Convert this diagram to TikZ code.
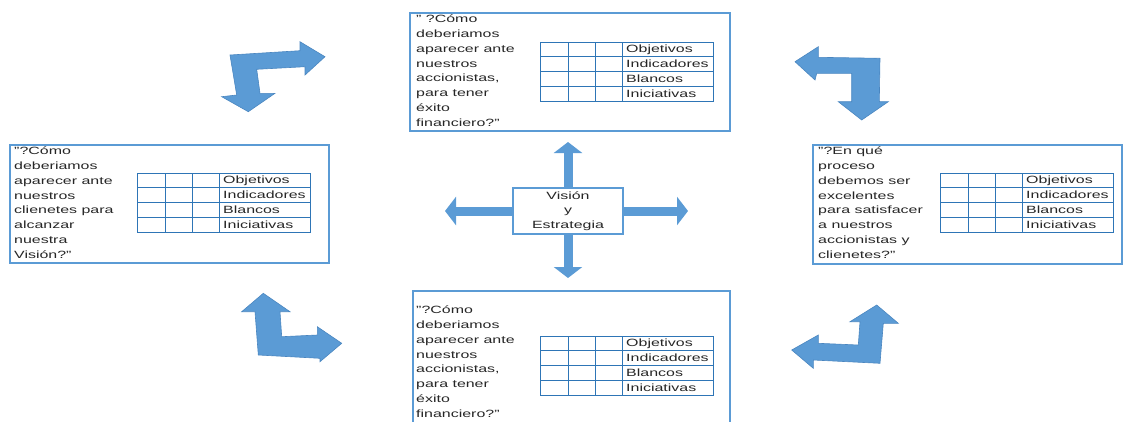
\documentclass[tikz,border=0pt]{standalone}
\usepackage{fontspec}
\setmainfont[FakeStretch=1.52]{Liberation Sans}
\usetikzlibrary{arrows.meta}
\definecolor{azul}{HTML}{5B9BD5}
\definecolor{contorno}{HTML}{4A86C0}
\definecolor{rejilla}{HTML}{2E75B6}
\definecolor{texto}{HTML}{262626}

\begin{document}
\begin{tikzpicture}[x=1pt, y=-1pt, font=\fontsize{10.5}{14.7}\selectfont, text=texto,
	caja/.style={draw=azul, line width=1.5pt, inner sep=0pt, anchor=north west},
	pregunta/.style={anchor=north west, align=left, inner sep=0pt, font=\fontsize{10.5}{14.75}\selectfont},
	fila/.style={anchor=west, inner sep=0pt},
	flecha/.style={draw=azul, line width=9pt, -{Triangle[width=28pt, length=11pt]}},
	codo/.style={fill=azul, draw=contorno, line width=0.6pt, line join=miter}]
	\useasboundingbox (0,0) rectangle (1126,421);
	\clip (0,0) rectangle (1126,421);
	% perspectivas
	\node[caja, minimum width=320pt, minimum height=118pt] (arriba) at (409,12) {};
	\node[caja, minimum width=319pt, minimum height=118pt] (izq) at (9,144) {};
	\node[caja, minimum width=309pt, minimum height=119pt] (der) at (812,144) {};
	\node[caja, minimum width=317pt, minimum height=150pt] (abajo) at (412,290) {};
	\node[pregunta] (qArriba) at (416,15) {" ?Cómo\\deberiamos\\aparecer ante\\nuestros\\accionistas,\\para tener\\éxito\\financiero?"};
	\node[pregunta] (qIzq) at (14,147) {"?Cómo\\deberiamos\\aparecer ante\\nuestros\\clienetes para\\alcanzar\\nuestra\\Visión?"};
	\node[pregunta] (qDer) at (818,147) {"?En qué\\proceso\\debemos ser\\excelentes\\para satisfacer\\a nuestros\\accionistas y\\clienetes?"};
	\node[pregunta] (qAbajo) at (416,306) {"?Cómo\\deberiamos\\aparecer ante\\nuestros\\accionistas,\\para tener\\éxito\\financiero?"};
	% tablas
	\foreach \tx/\ty/\tn in {540/42/ta, 137/173/tb, 940/173/tc, 540/336/td} {
		\draw[rejilla, line width=1pt] (\tx,\ty) rectangle ++(173,59);
		\foreach \c in {28,55,82}
			\draw[rejilla, line width=1pt] (\tx+\c,\ty) -- ++(0,59);
		\foreach \r in {1,2,3}
			\draw[rejilla, line width=1pt] (\tx,\ty+\r*14.75) -- ++(173,0);
		\foreach \lab [count=\i] in {Objetivos,Indicadores,Blancos,Iniciativas}
			\node[fila] (\tn\i) at (\tx+86,\ty+\i*14.75-7.4) {\lab};
	}
	% centro
	\node[caja, anchor=center, minimum width=110pt, minimum height=46pt, align=center, fill=white] (vision) at (568,211) {Visión\\y\\Estrategia};
	\coordinate (n) at (568,142);
	\coordinate (s) at (568,278);
	\coordinate (o) at (445,211);
	\coordinate (e) at (688,211);
	\draw[flecha] (vision) -- (n);
	\draw[flecha] (vision) -- (s);
	\draw[flecha] (vision) -- (o);
	\draw[flecha] (vision) -- (e);
	% flechas en codo
	\draw[codo] (230,55) -- (300,50.7) -- (300,41.7) -- (325,56.7) -- (305,75) -- (305,66.7) -- (256.7,69.3)
		-- (260,93.3) -- (275,93.3) -- (248.3,111.7) -- (221.7,96.7) -- (236.7,95) -- cycle;
	\draw[codo] (795,61.7) -- (818.3,46.7) -- (818.3,57.3) -- (880,58.3) -- (879.3,101.7) -- (888.3,101.7)
		-- (861.7,120) -- (838.3,101.7) -- (851.7,101.7) -- (851.7,73.3) -- (816.7,73.3) -- (815,80) -- cycle;
	\draw[codo] (263.3,293.3) -- (290,311.7) -- (280,311.7) -- (281.7,336.7) -- (317.3,335) -- (317.3,326.7)
		-- (341.7,343.3) -- (320,361.7) -- (320,358.3) -- (258.3,355) -- (255,311.7) -- (241.7,311.7) -- cycle;
	\draw[codo] (876.7,305) -- (898.3,323.3) -- (883.3,323.3) -- (880,363.3) -- (813.3,360) -- (813.3,368.3)
		-- (791.7,350) -- (818.3,335) -- (818.3,343.3) -- (858.3,345) -- (860,321.7) -- (850,321.7) -- cycle;
\end{tikzpicture}
\end{document}
